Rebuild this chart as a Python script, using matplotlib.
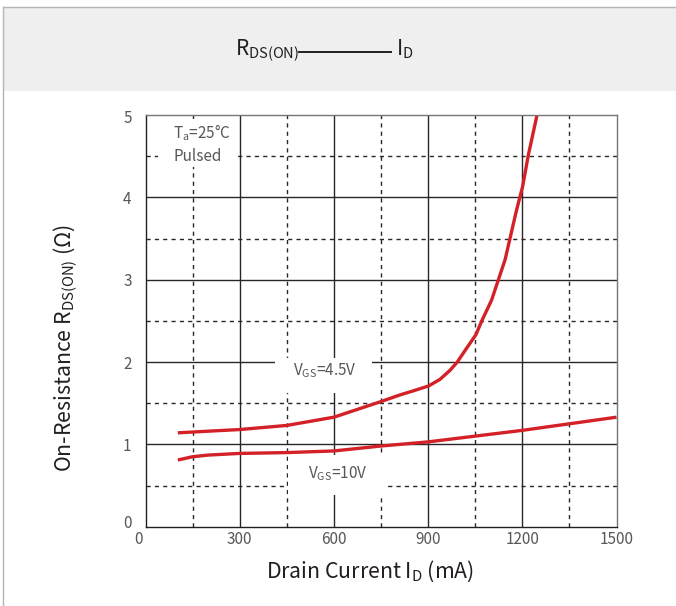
import matplotlib
matplotlib.use("Agg")
from matplotlib import pyplot as plt
from matplotlib.patches import Rectangle
from matplotlib.lines import Line2D
import matplotlib.transforms as mtransforms

plt.rcParams['font.family'] = ['Noto Sans CJK JP', 'DejaVu Sans']
plt.rcParams['mathtext.fontset'] = 'custom'
plt.rcParams['mathtext.rm'] = 'Noto Sans CJK JP'
plt.rcParams['mathtext.it'] = 'Noto Sans CJK JP'
plt.rcParams['mathtext.default'] = 'rm'

# data
x_ticks = [0, 300, 600, 900, 1200, 1500]
y_ticks = [0, 1, 2, 3, 4, 5]
id_45 = [103, 200, 300, 450, 600, 750, 810, 853, 902, 938, 970, 993, 1023, 1052, 1071, 1102, 1145, 1182, 1201, 1219, 1247]
r_45 = [1.14, 1.16, 1.18, 1.23, 1.33, 1.52, 1.60, 1.65, 1.71, 1.79, 1.90, 2.00, 2.17, 2.33, 2.50, 2.75, 3.24, 3.85, 4.13, 4.51, 5.0]
id_10 = [103, 150, 200, 300, 450, 600, 750, 900, 1050, 1200, 1350, 1500]
r_10 = [0.81, 0.85, 0.87, 0.89, 0.90, 0.92, 0.98, 1.03, 1.10, 1.17, 1.25, 1.33]

W, H = 676, 606
fig = plt.figure(figsize=(W/100, H/100), dpi=100)

def fx(px): return px/W
def fy(py): return 1 - py/H

# header band and frame
fig.patches.append(Rectangle((fx(3), fy(91)), 1-fx(3), fy(7)-fy(91), transform=fig.transFigure,
                             facecolor='#efefef', edgecolor='none', zorder=0))
fig.lines.append(Line2D([fx(3), 1], [fy(7), fy(7)], transform=fig.transFigure, color='#b5b5b5', lw=1))
fig.lines.append(Line2D([fx(3), fx(3)], [fy(7), 0], transform=fig.transFigure, color='#b5b5b5', lw=1))

# title
fig.text(fx(299), fy(55), r'R$_{\rm DS(ON)}$', ha='right', va='baseline', fontsize=15, color='#231f20')
fig.lines.append(Line2D([fx(299), fx(391)], [fy(51.7), fy(51.7)], transform=fig.transFigure, color='#231f20', lw=1.4))
fig.text(fx(396), fy(55), r'I$_{\rm D}$', ha='left', va='baseline', fontsize=15, color='#231f20')

ax = fig.add_axes([fx(145.5), fy(526.7), fx(616.5)-fx(145.5), fy(115)-fy(526.7)])
ax.set_xlim(0, 1500)
ax.set_ylim(0, 5)

grid_c = '#2a2526'
for v in [300, 600, 900, 1200]:
    ax.axvline(v, color=grid_c, lw=1.0, zorder=1)
for v in [150, 450, 750, 1050, 1350]:
    ax.axvline(v, color=grid_c, lw=1.0, ls=(0, (3, 3)), zorder=1)
for v in [1, 2, 3, 4]:
    ax.axhline(v, color=grid_c, lw=1.0, zorder=1)
for v in [0.5, 1.5, 2.5, 3.5, 4.5]:
    ax.axhline(v, color=grid_c, lw=1.0, ls=(0, (3, 3)), zorder=1)

# white boxes behind annotations
for (x0, x1, y0, y1) in [(40, 291, 4.37, 4.95), (412, 721, 1.62, 2.05), (454, 769, 0.385, 0.87)]:
    ax.add_patch(Rectangle((x0, y0), x1-x0, y1-y0, facecolor='white', edgecolor='none', zorder=2))

txt_c = '#595757'
ax.text(88, 4.78, r'T$_{\rm a}$=25°C', fontsize=11, color=txt_c, va='center', ha='left', zorder=3)
ax.text(88, 4.50, 'Pulsed', fontsize=11, color=txt_c, va='center', ha='left', zorder=3)
ax.text(469, 1.895, r'V$_{\rm GS}$=4.5V', fontsize=11, color=txt_c, va='center', ha='left', zorder=3)
ax.text(517, 0.65, r'V$_{\rm GS}$=10V', fontsize=11, color=txt_c, va='center', ha='left', zorder=3)

red = '#d42127'
ax.plot(id_45, r_45, color=red, lw=2.4, zorder=4, solid_joinstyle='round', solid_capstyle='butt')
ax.plot(id_10, r_10, color=red, lw=2.4, zorder=4, solid_joinstyle='round', solid_capstyle='butt')

for s in ['left', 'bottom']:
    ax.spines[s].set_color('#231f20')
for s in ['top', 'right']:
    ax.spines[s].set_color('#7a7474')
for s in ax.spines.values():
    s.set_linewidth(1.0)
    s.set_zorder(5)

ax.set_xticks(x_ticks)
ax.set_yticks(y_ticks)
ax.set_xticklabels([str(v) for v in x_ticks])
ax.set_yticklabels([str(v) for v in y_ticks])
ax.tick_params(length=0, labelsize=11, labelcolor=txt_c)
ax.tick_params(axis='x', pad=3)
ax.tick_params(axis='y', pad=10)

# zero labels are nudged in the reference
lx = ax.get_xticklabels()[0]
lx.set_transform(lx.get_transform() + mtransforms.ScaledTranslation(-7/100, 0, fig.dpi_scale_trans))
ly = ax.get_yticklabels()[0]
ly.set_transform(ly.get_transform() + mtransforms.ScaledTranslation(0, 5/100, fig.dpi_scale_trans))
ly5 = ax.get_yticklabels()[-1]
ly5.set_transform(ly5.get_transform() + mtransforms.ScaledTranslation(0, -2/100, fig.dpi_scale_trans))

fig.text(fx(370), fy(571), r'Drain Current I$_{\rm D}$ (mA)', ha='center', va='center', fontsize=15.3, color='#231f20')
fig.text(fx(65), fy(348), r'On-Resistance R$_{\rm DS(ON)}$ ($\Omega$)', ha='center', va='center',
         rotation=90, fontsize=15.3, color='#231f20')

fig.savefig('out.png', dpi=100)
